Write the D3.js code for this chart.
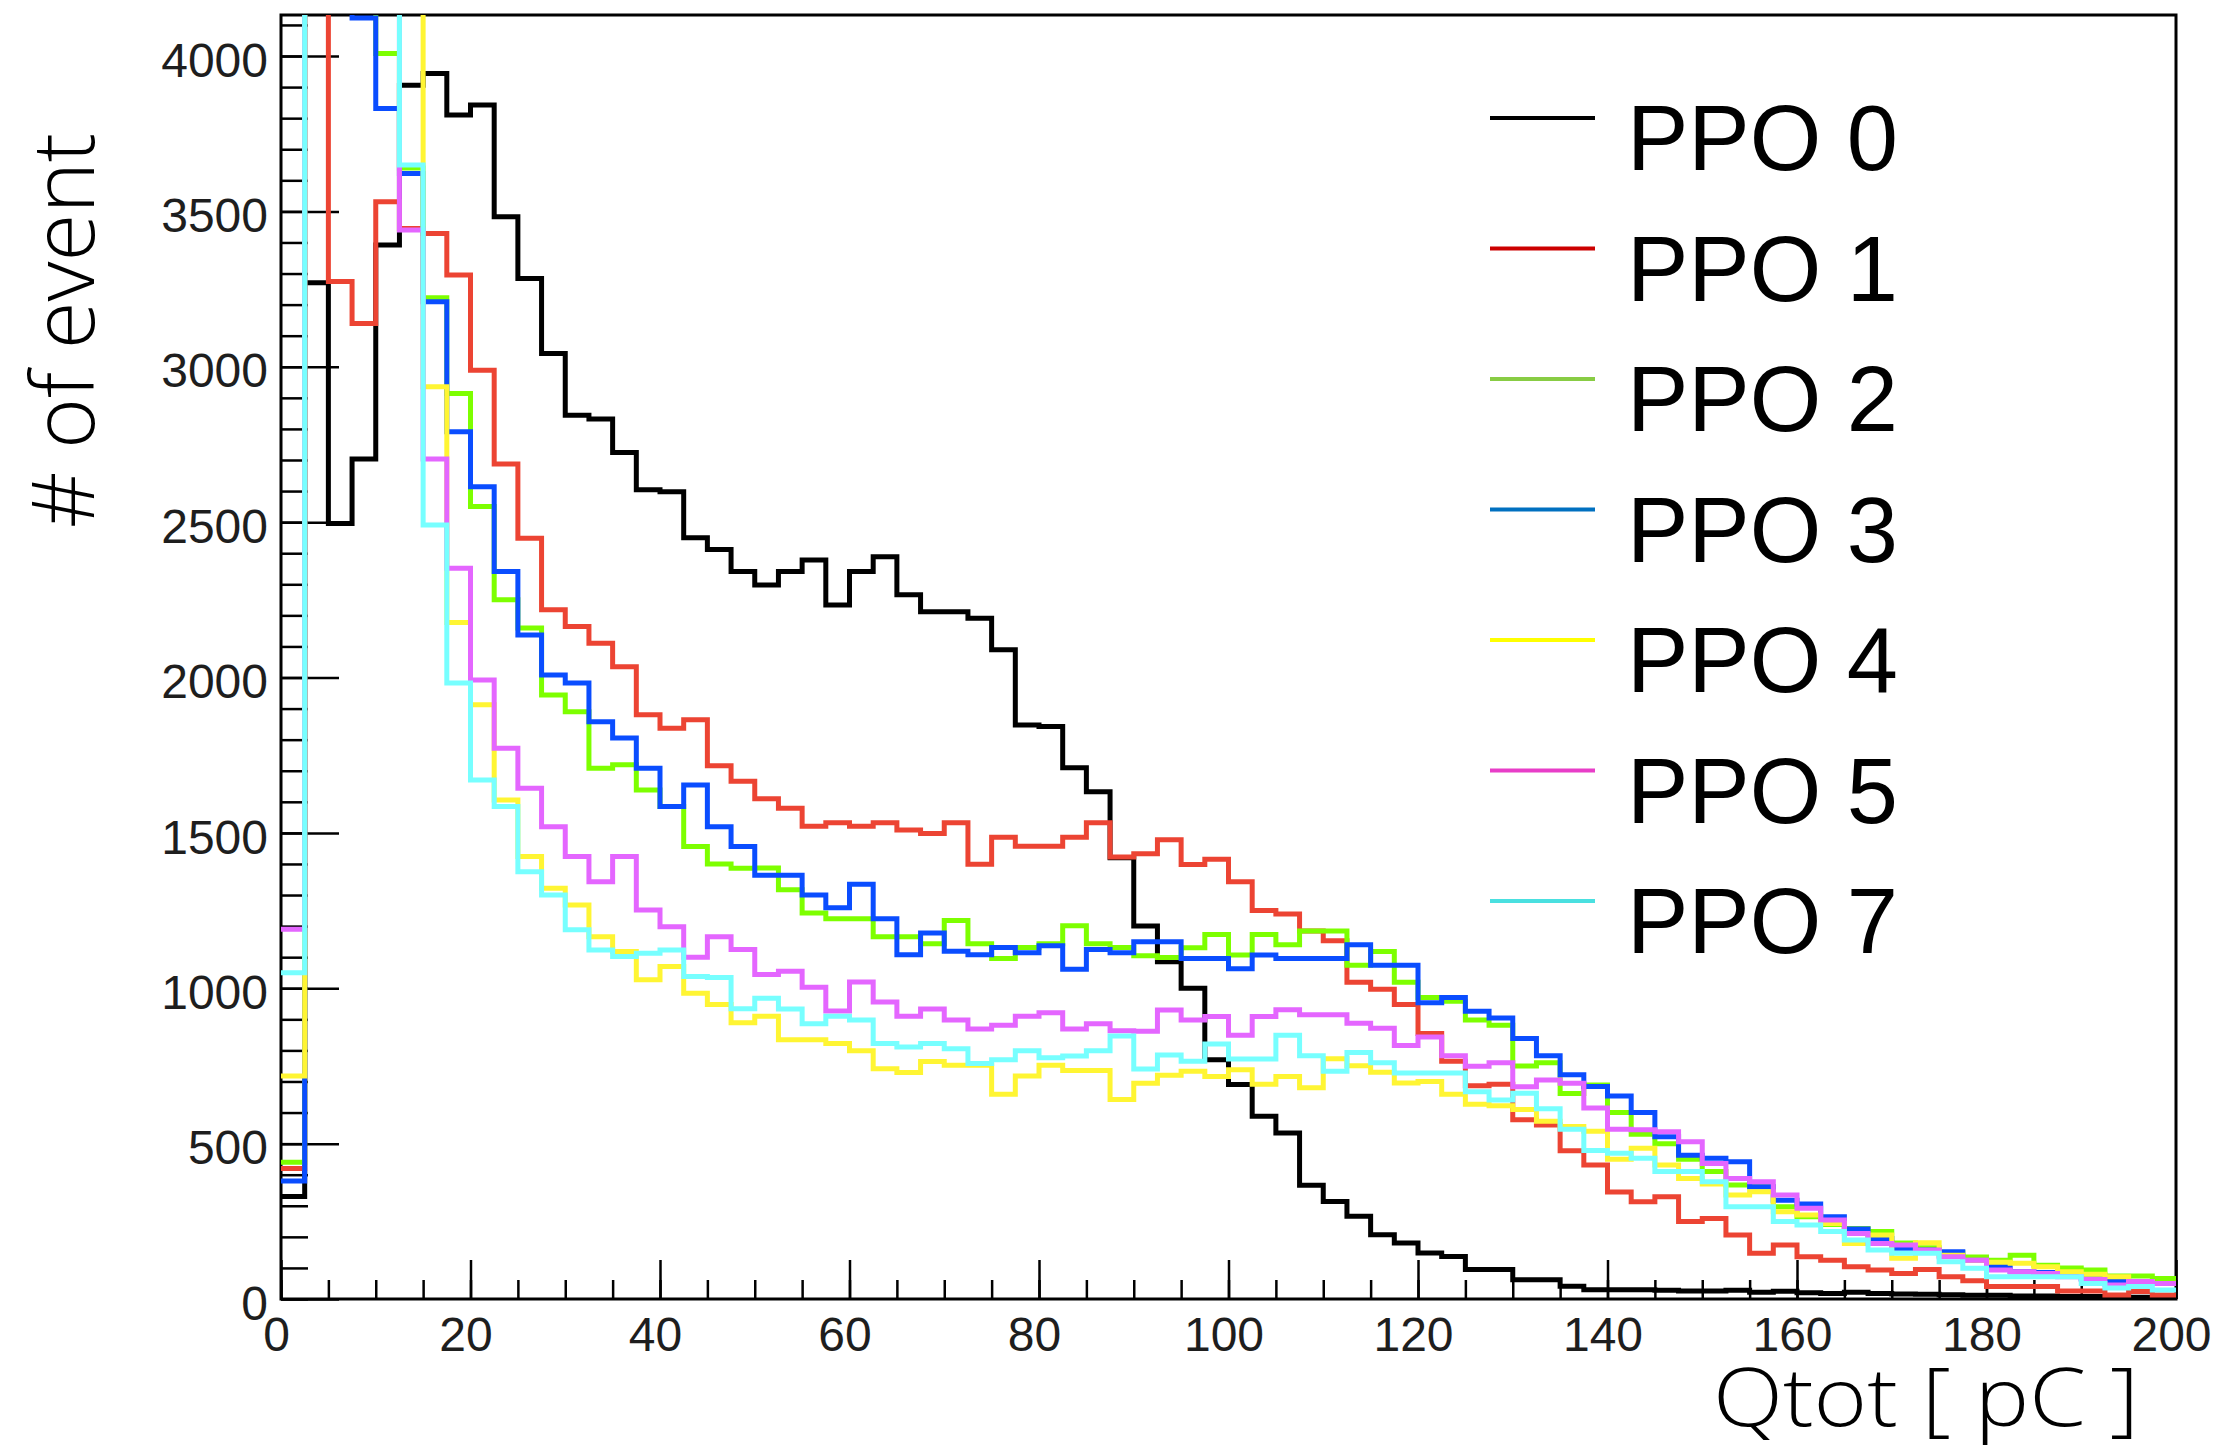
<!DOCTYPE html>
<html>
<head>
<meta charset="utf-8">
<script src="https://cdn.jsdelivr.net/npm/d3@7"></script>
<style>
  body { margin: 0; background: #fff; }
</style>
</head>
<body>
<svg id="chart" width="2236" height="1452"></svg>
<script>
// Qtot histograms, 80 bins of 2.5 pC from 0 to 200
const BIN_WIDTH = 2.5;

const seriesNames = ["PPO 0", "PPO 1", "PPO 2", "PPO 3", "PPO 4", "PPO 5", "PPO 7"];

const ppo0 = [330, 3270, 2496, 2703, 3392, 3906, 3944, 3810, 3842, 3483,
  3284, 3043, 2844, 2832, 2724, 2604, 2598, 2450, 2412, 2341,
  2298, 2341, 2378, 2233, 2341, 2389, 2266, 2212, 2212, 2191,
  2089, 1847, 1842, 1710, 1632, 1420, 1200, 1085, 1000, 770,
  690, 588, 534, 366, 314, 266, 207, 180, 148, 137,
  95, 95, 62, 62, 41, 30, 30, 30, 28, 26,
  26, 28, 22, 25, 20, 18, 22, 18, 16, 15,
  14, 12, 12, 10, 10, 8, 8, 7, 6, 6];

const ppo1 = [420, 4700, 3274, 3139, 3531, 3445, 3429, 3295, 2989, 2687,
  2448, 2218, 2164, 2110, 2035, 1880, 1837, 1864, 1716, 1666,
  1610, 1579, 1521, 1533, 1521, 1533, 1509, 1498, 1533, 1399,
  1486, 1457, 1457, 1486, 1533, 1422, 1433, 1478, 1398, 1415,
  1343, 1250, 1239, 1184, 1153, 1019, 997, 948, 854, 765,
  686, 691, 577, 560, 477, 431, 344, 313, 329, 249,
  259, 206, 147, 174, 136, 125, 104, 93, 82, 95,
  72, 59, 40, 40, 40, 26, 26, 13, 24, 13];

const ppo2 = [440, 5200, 5000, 4500, 4008, 3640, 3222, 2914, 2550, 2250,
  2159, 1944, 1890, 1708, 1719, 1638, 1585, 1456, 1400, 1386,
  1387, 1317, 1242, 1224, 1224, 1166, 1166, 1143, 1218, 1143,
  1096, 1131, 1143, 1201, 1143, 1131, 1105, 1099, 1130, 1173,
  1107, 1173, 1140, 1184, 1184, 1074, 1118, 1019, 970, 958,
  898, 881, 750, 760, 661, 689, 600, 530, 500, 450,
  410, 367, 361, 297, 265, 240, 227, 217, 180, 165,
  149, 135, 125, 141, 109, 100, 93, 74, 74, 66];

const ppo3 = [380, 5000, 4800, 4122, 3831, 3622, 3209, 2791, 2614, 2341,
  2137, 2008, 1982, 1858, 1805, 1708, 1585, 1654, 1520, 1456,
  1364, 1364, 1300, 1259, 1335, 1224, 1108, 1178, 1119, 1108,
  1131, 1114, 1137, 1061, 1125, 1114, 1150, 1150, 1096, 1096,
  1063, 1107, 1096, 1096, 1096, 1140, 1074, 1074, 953, 970,
  926, 904, 838, 783, 722, 684, 653, 600, 522, 463,
  453, 442, 361, 318, 306, 265, 225, 195, 163, 158,
  152, 125, 105, 88, 85, 75, 65, 58, 52, 50];

const ppo4 = [718, 5200, 5400, 5300, 5000, 4600, 2936, 2177, 1912, 1606,
  1424, 1322, 1268, 1166, 1118, 1027, 1070, 984, 948, 889,
  910, 834, 834, 822, 799, 741, 729, 764, 752, 752,
  659, 718, 752, 735, 735, 642, 694, 720, 733, 716,
  738, 691, 716, 680, 773, 751, 730, 695, 700, 659,
  627, 622, 610, 572, 555, 540, 450, 485, 431, 388,
  370, 335, 345, 281, 270, 243, 179, 206, 131, 181,
  141, 125, 118, 115, 104, 88, 80, 72, 56, 50];

const ppo5 = [1190, 5000, 5200, 5000, 4400, 3440, 2703, 2352, 1992, 1772,
  1644, 1520, 1424, 1343, 1424, 1252, 1198, 1100, 1166, 1125,
  1044, 1055, 1003, 927, 1020, 956, 910, 933, 898, 869,
  881, 910, 921, 869, 886, 863, 862, 930, 898, 909,
  849, 909, 931, 915, 915, 887, 871, 816, 843, 783,
  749, 760, 683, 705, 694, 615, 546, 545, 538, 506,
  436, 388, 377, 335, 292, 254, 211, 179, 174, 158,
  136, 125, 93, 88, 82, 72, 63, 45, 56, 50];

const ppo7 = [1050, 5500, 5400, 5000, 4500, 3649, 2491, 1982, 1670, 1585,
  1375, 1300, 1188, 1123, 1102, 1113, 1123, 1038, 1035, 934,
  968, 933, 886, 910, 898, 822, 811, 822, 805, 758,
  770, 799, 776, 782, 799, 846, 740, 785, 765, 821,
  772, 772, 849, 783, 733, 793, 760, 727, 727, 727,
  667, 640, 662, 612, 546, 478, 469, 453, 410, 410,
  377, 297, 297, 249, 238, 217, 190, 158, 147, 147,
  120, 99, 72, 72, 72, 72, 50, 35, 40, 29];

const lineColors = ["#000000", "#ec4433", "#7dff00", "#0a4dff", "#fff533", "#e466ff", "#77ffff"];
const legendColors = ["#000000", "#cc0000", "#88cc44", "#0070c0", "#ffff00", "#e83ec8", "#4ae0e0"];

const xMajorTicks = [0, 20, 40, 60, 80, 100, 120, 140, 160, 180, 200];
const yMajorTicks = [0, 500, 1000, 1500, 2000, 2500, 3000, 3500, 4000];

const allSeries = [ppo0, ppo1, ppo2, ppo3, ppo4, ppo5, ppo7];

const svg = d3.select("#chart");

// frame edges
const plotLeft = 281, plotRight = 2176, plotTop = 15, plotBottom = 1299;

const x = d3.scaleLinear().domain([0, 200]).range([plotLeft, plotRight]);
const y = d3.scaleLinear().domain([0, 4132]).range([plotBottom, plotTop]);

svg.append("rect")
  .attr("width", 2236)
  .attr("height", 1452)
  .attr("fill", "#fff");

const styleAxis = function (g) {
  g.select(".domain").remove();
  g.selectAll(".tick line").attr("stroke", "#000").attr("stroke-width", 2.5);
  g.selectAll(".tick text")
    .attr("fill", "#1e1e1e")
    .attr("font-family", "Liberation Sans, Arial, sans-serif")
    .attr("font-size", 48);
};

// y axis minor + major
svg.append("g")
  .attr("transform", `translate(${plotLeft},0)`)
  .call(d3.axisLeft(y).tickValues(d3.range(0, 4101, 100)).tickSize(-27).tickFormat(""))
  .call(styleAxis);

svg.append("g")
  .attr("transform", `translate(${plotLeft},0)`)
  .call(d3.axisLeft(y).tickValues(yMajorTicks).tickSize(-58).tickPadding(13).tickFormat(d3.format("d")))
  .call(styleAxis)
  .selectAll(".tick text")
  .attr("dy", "0.42em");

// x axis minor + major
svg.append("g")
  .attr("transform", `translate(0,${plotBottom})`)
  .call(d3.axisBottom(x).tickValues(d3.range(0, 201, 5)).tickSize(-19).tickFormat(""))
  .call(styleAxis);

svg.append("g")
  .attr("transform", `translate(0,${plotBottom})`)
  .call(d3.axisBottom(x).tickValues(xMajorTicks).tickSize(-39).tickPadding(18).tickFormat(d3.format("d")))
  .call(styleAxis)
  .selectAll(".tick text")
  .attr("dx", -5);

svg.append("rect")
  .attr("x", plotLeft)
  .attr("y", plotTop)
  .attr("width", plotRight - plotLeft)
  .attr("height", plotBottom - plotTop)
  .attr("fill", "none")
  .attr("stroke", "#000")
  .attr("stroke-width", 3);

// histograms
svg.append("clipPath")
  .attr("id", "plot-clip")
  .append("rect")
  .attr("x", plotLeft)
  .attr("y", plotTop)
  .attr("width", plotRight - plotLeft)
  .attr("height", plotBottom - plotTop);

const stepLine = d3.line()
  .x(d => x(d[0]))
  .y(d => y(d[1]))
  .curve(d3.curveStepAfter);

const hists = svg.append("g").attr("clip-path", "url(#plot-clip)");

allSeries.forEach(function (vals, k) {
  let pts = vals.map((v, i) => [i * BIN_WIDTH, v]);
  pts.push([vals.length * BIN_WIDTH, vals[vals.length - 1]]);
  hists.append("path")
    .datum(pts)
    .attr("d", stepLine)
    .attr("fill", "none")
    .attr("stroke", lineColors[k])
    .attr("stroke-width", 5)
    .attr("stroke-linejoin", "miter");
});

// legend
const legend = svg.append("g");
seriesNames.forEach(function (name, i) {
  let ly = 118 + i * 130.5;
  legend.append("line")
    .attr("x1", 1490)
    .attr("x2", 1595)
    .attr("y1", ly)
    .attr("y2", ly)
    .attr("stroke", legendColors[i])
    .attr("stroke-width", 4);
  legend.append("text")
    .attr("x", 1627)
    .attr("y", ly + 52)
    .attr("font-family", "Liberation Sans, Arial, sans-serif")
    .attr("font-size", 92)
    .attr("fill", "#000")
    .text(name);
});

// axis titles
svg.append("text")
  .attr("x", 1713)
  .attr("y", 1426)
  .attr("font-family", "Open Sans, sans-serif")
  .attr("font-weight", 300)
  .attr("font-size", 82)
  .attr("textLength", 426)
  .attr("lengthAdjust", "spacingAndGlyphs")
  .attr("fill", "#000")
  .text("Qtot [ pC ]");

svg.append("text")
  .attr("transform", "translate(94,528) rotate(-90)")
  .attr("font-family", "Open Sans, sans-serif")
  .attr("font-weight", 300)
  .attr("font-size", 86)
  .attr("textLength", 395)
  .attr("lengthAdjust", "spacingAndGlyphs")
  .attr("fill", "#000")
  .text("# of event");
</script>
</body>
</html>
